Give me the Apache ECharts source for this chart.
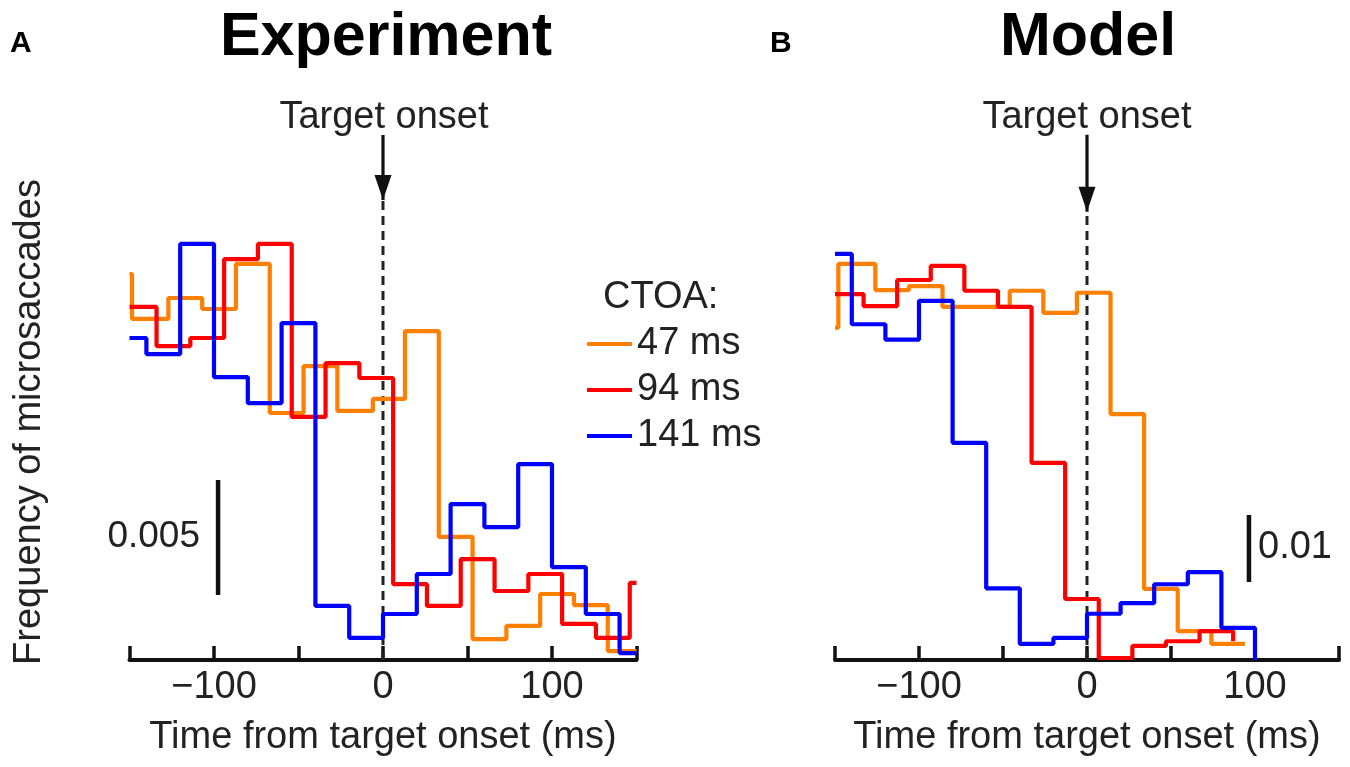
<!DOCTYPE html>
<html><head><meta charset="utf-8">
<script src="https://cdn.jsdelivr.net/npm/echarts@6/dist/echarts.min.js"></script>
<style>html,body{margin:0;padding:0;background:#fff}#c{width:1350px;height:767px}</style>
</head><body><div id="c"></div>
<script>
// ---- Panel A: Experiment (bin edges in ms, frequency per bin; last value = value at final edge)
const expEdges47 = [-150,-148.5,-127,-107,-87,-67,-47,-27,-6,13,33,53,73,93,113,133,150];
const expFreq47  = [0.01678,0.01483,0.01574,0.01526,0.01722,0.01074,0.01278,0.01083,0.01135,0.01430,0.00535,0.00091,0.00148,0.00287,0.00239,0.00039,0.00039];
const expEdges94 = [-150,-134,-114,-94,-74,-54,-34,-14,6,26,46,66,86,106,126,146,150];
const expFreq94  = [0.01535,0.01365,0.01400,0.01743,0.01809,0.01057,0.01291,0.01226,0.00330,0.00235,0.00439,0.00300,0.00374,0.00157,0.00096,0.00335,0.00335];
const expEdges141 = [-150,-140,-120,-100,-80,-60,-40,-20,0,20,40,60,80,100,120,140,150];
const expFreq141  = [0.01400,0.01330,0.01809,0.01230,0.01117,0.01465,0.00235,0.00096,0.00200,0.00374,0.00678,0.00578,0.00852,0.00404,0.00200,0.00030,0.00030];

// ---- Panel B: Model
const modEdges47 = [-150,-148,-126,-106,-86,-66,-46,-26,-6,14,34,54,74,94];
const modFreq47  = [0.0496,0.0591,0.0552,0.0558,0.0527,0.0527,0.0551,0.0518,0.0548,0.0367,0.0106,0.0043,0.0024,0.0024];
const modEdges94 = [-150,-133,-113,-93,-73,-53,-33,-13,7,27,47,67,87];
const modFreq94  = [0.0546,0.0528,0.0567,0.0588,0.0551,0.0527,0.0294,0.0091,0.0003,0.0021,0.0028,0.0043,0.0028];
const modEdges141 = [-150,-140,-120,-100,-80,-60,-40,-20,0,20,40,60,80,100];
const modFreq141  = [0.0606,0.0501,0.0478,0.0536,0.0324,0.0107,0.0024,0.0033,0.0069,0.0085,0.0113,0.0131,0.0048,0];

const seriesNames = ['47 ms','94 ms','141 ms'];
const seriesColors = ['#FF7F00','#FF0000','#0000FF'];
const xTicks = [-150,-100,-50,0,50,100,150];
const expScaleBar = {x: -97.6, y0: 0.00283, len: 0.005, label: '0.005'};
const modScaleBar = {x: 96.4, y0: 0.01164, len: 0.01, label: '0.01'};
const expOnset = {tip: 0.0200, top: 0.02283};
const modOnset = {tip: 0.06687, top: 0.07836};

const FONT = "'Liberation Sans', Arial, Helvetica, sans-serif";
const chart = echarts.init(document.getElementById('c'));

function stepData(edges, vals){ return edges.map((e,i)=>[e, vals[i]]); }

function stepSeries(name, color, edges, vals, gi){
  return {type:'line', name, xAxisIndex:gi, yAxisIndex:gi, step:'end', symbol:'none',
    data: stepData(edges, vals), lineStyle:{color, width:4.2}, itemStyle:{color}, z:3, silent:true};
}
function vLine(x, y0, y1, gi, style){
  return {type:'line', xAxisIndex:gi, yAxisIndex:gi, symbol:'none', data:[[x,y0],[x,y1]],
    lineStyle:style, silent:true, z:2};
}
function arrow(x, top, tip, gi){
  return {type:'line', xAxisIndex:gi, yAxisIndex:gi, symbol:'none', silent:true, z:4,
    lineStyle:{color:'#111', width:3.2},
    data:[[x,top],{value:[x,tip], symbol:'triangle', symbolSize:[17,25], symbolRotate:180,
      symbolOffset:[0,-12.5], itemStyle:{color:'#111'}}],
    showAllSymbol:true};
}

function xAxisCfg(gi){
  return {type:'value', gridIndex:gi, min:-150, max:150, interval:50,
    axisLine:{show:true, onZero:false, lineStyle:{color:'#111', width:4}},
    axisTick:{show:true, inside:true, length:14, lineStyle:{color:'#111', width:3.5}},
    axisLabel:{margin:9, fontSize:38, fontFamily:FONT, color:'#222',
      formatter:v => (v % 100 === 0 ? (v < 0 ? '\u2212' + Math.abs(v) : String(v)) : '')},
    splitLine:{show:false},
    name:'Time from target onset (ms)', nameLocation:'middle', nameGap:59,
    nameTextStyle:{fontSize:38, fontFamily:FONT, color:'#222'}};
}

const txt = (text, x, y, size, opts={}) => ({type:'text', x, y, rotation: opts.rot||0,
  style:{text, font:(opts.bold?'bold ':'') + size + 'px ' + FONT, fill: opts.fill||'#222',
    textAlign: opts.align||'center', textVerticalAlign:'middle'}});

const option = {
  animation:false,
  grid:[
    {left:129.5, right:713.5, top:85, bottom:107},
    {left:835, right:11, top:85, bottom:107}
  ],
  xAxis:[xAxisCfg(0), xAxisCfg(1)],
  yAxis:[
    {type:'value', gridIndex:0, min:0, max:0.025, show:false},
    {type:'value', gridIndex:1, min:0, max:0.0858, show:false}
  ],
  legend:{data:seriesNames, orient:'vertical', left:587, top:325, itemGap:8, padding:0,
    icon:'rect', itemWidth:45, itemHeight:4, selectedMode:false,
    textStyle:{fontSize:38, fontFamily:FONT, color:'#222', padding:[0,0,0,0]}},
  series:[
    vLine(0, 0, expOnset.tip, 0, {color:'#222', width:3, type:[9,6]}),
    vLine(0, 0, modOnset.tip, 1, {color:'#222', width:3, type:[9,6]}),
    arrow(0, expOnset.top, expOnset.tip, 0),
    arrow(0, modOnset.top, modOnset.tip, 1),
    vLine(expScaleBar.x, expScaleBar.y0, expScaleBar.y0 + expScaleBar.len, 0, {color:'#111', width:4.5}),
    vLine(modScaleBar.x, modScaleBar.y0, modScaleBar.y0 + modScaleBar.len, 1, {color:'#111', width:4.5}),
    stepSeries(seriesNames[0], seriesColors[0], expEdges47, expFreq47, 0),
    stepSeries(seriesNames[1], seriesColors[1], expEdges94, expFreq94, 0),
    stepSeries(seriesNames[2], seriesColors[2], expEdges141, expFreq141, 0),
    stepSeries('Model ' + seriesNames[0], seriesColors[0], modEdges47, modFreq47, 1),
    stepSeries('Model ' + seriesNames[1], seriesColors[1], modEdges94, modFreq94, 1),
    stepSeries('Model ' + seriesNames[2], seriesColors[2], modEdges141, modFreq141, 1)
  ],
  graphic:[
    txt('A', 10, 44, 30, {bold:true, align:'left', fill:'#000'}),
    txt('Experiment', 386, 38, 61, {bold:true, fill:'#000'}),
    txt('B', 770, 44, 30, {bold:true, align:'left', fill:'#000'}),
    txt('Model', 1088, 38, 61, {bold:true, fill:'#000'}),
    txt('Target onset', 384, 118, 38),
    txt('Target onset', 1087, 118, 38),
    txt('Frequency of microsaccades', 30, 422, 38, {rot:Math.PI/2}),
    txt(expScaleBar.label, 200, 537, 37, {align:'right'}),
    txt(modScaleBar.label, 1258, 548, 38, {align:'left'}),
    txt('CTOA:', 603, 298, 38, {align:'left'})
  ]
};
chart.setOption(option);
</script></body></html>
